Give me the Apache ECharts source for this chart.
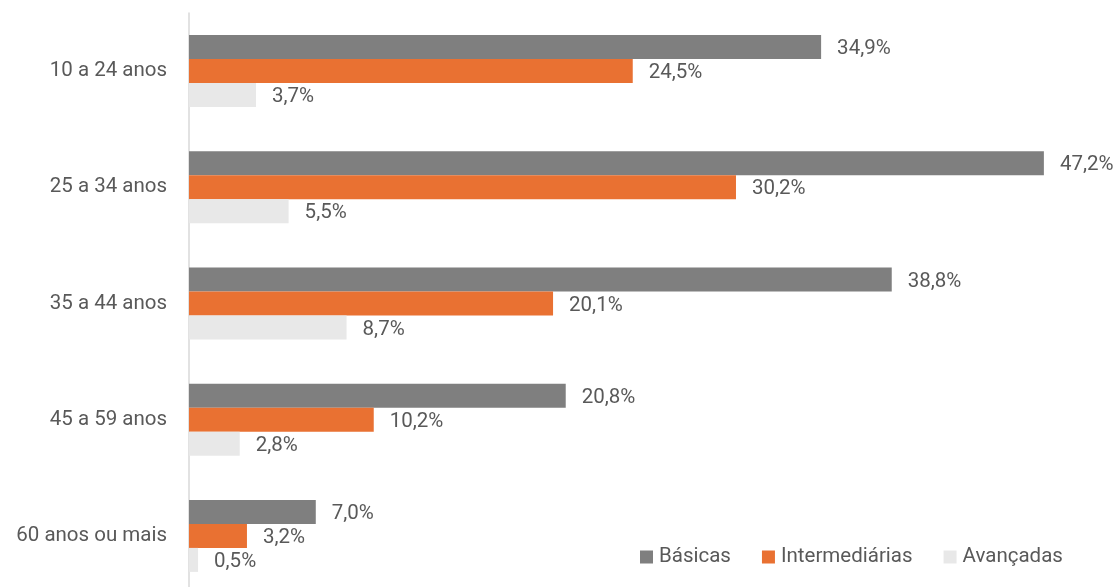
<!DOCTYPE html>
<html>
<head>
<meta charset="utf-8">
<script src="https://cdn.jsdelivr.net/npm/echarts@6/dist/echarts.min.js"></script>
<style>html,body{margin:0;padding:0;background:#fff;overflow:hidden;width:1118px;height:587px}#c{width:1118px;height:595px}</style>
</head>
<body>
<div id="c"></div>
<script>
const categories = ['10 a 24 anos', '25 a 34 anos', '35 a 44 anos', '45 a 59 anos', '60 anos ou mais'];
const basicas = [34.9, 47.2, 38.8, 20.8, 7.0];
const intermediarias = [24.5, 30.2, 20.1, 10.2, 3.2];
const avancadas = [3.7, 5.5, 8.7, 2.8, 0.5];

const font = 'Roboto, "Noto Sans", sans-serif';
const fs = 20.5;
const fmt = p => p.value.toFixed(1).replace('.', ',') + '%';
function mk(name, data, color) {
  return {
    name, type: 'bar', data, barWidth: 24, barGap: '0%',
    itemStyle: { color },
    label: { show: true, position: 'right', distance: 16, offset: [0, 2], formatter: fmt, color: '#595959', fontSize: fs, fontFamily: font },
    emphasis: { disabled: true }
  };
}
const chart = echarts.init(document.getElementById('c'), null, { renderer: 'canvas' });
chart.setOption({
  animation: false,
  grid: { left: 189, right: 23.4, top: 13, bottom: 1, containLabel: false },
  xAxis: { type: 'value', min: 0, max: 50, show: false },
  yAxis: {
    type: 'category', data: categories, inverse: true,
    axisLine: { show: true, lineStyle: { color: '#d9d9d9', width: 1.5 } },
    axisTick: { show: false },
    axisLabel: { color: '#595959', fontSize: fs, fontFamily: font, margin: 22, padding: [4, 0, 0, 0] }
  },
  legend: {
    left: 640, top: 546.5, padding: 0, itemWidth: 13, itemHeight: 13, itemGap: 31,
    icon: 'rect',
    textStyle: { color: '#595959', fontSize: fs, fontFamily: font, padding: [0, 0, 0, 1] },
    data: ['Básicas', 'Intermediárias', 'Avançadas']
  },
  series: [
    mk('Básicas', basicas, '#7f7f7f'),
    mk('Intermediárias', intermediarias, '#e97132'),
    mk('Avançadas', avancadas, '#e8e8e8')
  ]
});
</script>
</body>
</html>
